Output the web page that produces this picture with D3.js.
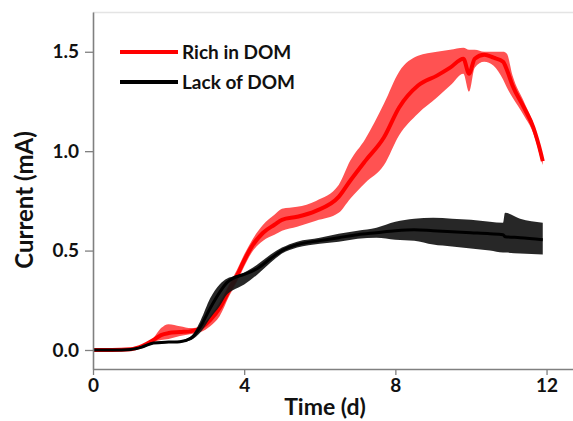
<!DOCTYPE html>
<html><head><meta charset="utf-8">
<script src="https://cdn.jsdelivr.net/npm/d3@7"></script>
<style>
html,body{margin:0;padding:0;background:#fff;}
svg{display:block;font-family:Lato,"Open Sans",sans-serif;font-weight:bold;}
</style></head>
<body>
<svg id="c" width="573" height="421"></svg>
<script>
// ---- data ----
const xTicks = [0, 4, 8, 12];
const yTicks = [0, 0.5, 1.0, 1.5];
const seriesNames = ["Rich in DOM", "Lack of DOM"];

const tRed    = [0, 0.5, 1.0, 1.3, 1.6, 1.8, 2.0, 2.3, 2.6, 2.85, 3.1, 3.35, 3.6, 3.8, 4.0, 4.2, 4.5, 4.8, 5.0, 5.4, 5.9, 6.5, 6.8, 7.2, 7.7, 8.1, 8.6, 9.1, 9.45, 9.8, 9.95, 10.1, 10.35, 10.6, 10.85, 10.95, 11.1, 11.4, 11.65, 11.75, 11.85, 11.9];
const redMean = [0, 0, 0.004, 0.02, 0.05, 0.075, 0.085, 0.09, 0.095, 0.11, 0.15, 0.21, 0.30, 0.37, 0.45, 0.52, 0.59, 0.63, 0.655, 0.67, 0.70, 0.77, 0.85, 0.95, 1.07, 1.22, 1.33, 1.38, 1.42, 1.465, 1.39, 1.465, 1.485, 1.47, 1.45, 1.41, 1.33, 1.22, 1.12, 1.06, 0.99, 0.95];
const redLow  = [0, 0, 0.002, 0.015, 0.04, 0.05, 0.055, 0.07, 0.08, 0.09, 0.12, 0.17, 0.27, 0.34, 0.42, 0.49, 0.55, 0.58, 0.60, 0.62, 0.65, 0.69, 0.76, 0.84, 0.93, 1.08, 1.19, 1.27, 1.33, 1.39, 1.30, 1.42, 1.45, 1.43, 1.36, 1.32, 1.27, 1.18, 1.09, 1.03, 0.96, 0.93];
const redHigh = [0, 0, 0.006, 0.025, 0.06, 0.11, 0.13, 0.12, 0.11, 0.12, 0.17, 0.24, 0.33, 0.40, 0.48, 0.55, 0.63, 0.68, 0.71, 0.72, 0.75, 0.83, 0.95, 1.06, 1.24, 1.40, 1.48, 1.50, 1.51, 1.52, 1.51, 1.51, 1.50, 1.50, 1.50, 1.49, 1.38, 1.25, 1.14, 1.08, 1.01, 0.97];

const tBlack    = [0, 0.5, 1.0, 1.3, 1.6, 2.0, 2.3, 2.6, 2.85, 3.1, 3.35, 3.55, 3.7, 4.0, 4.35, 4.7, 5.0, 5.4, 6.0, 6.5, 7.0, 7.5, 8.0, 8.5, 9.0, 9.5, 10.0, 10.5, 10.85, 10.9, 11.3, 11.9];
const blackMean = [0, 0, 0.003, 0.015, 0.035, 0.04, 0.042, 0.06, 0.12, 0.21, 0.29, 0.34, 0.36, 0.38, 0.41, 0.46, 0.50, 0.53, 0.55, 0.565, 0.58, 0.59, 0.60, 0.605, 0.60, 0.595, 0.59, 0.585, 0.58, 0.57, 0.565, 0.555];
const blackLow  = [0, 0, 0, 0.01, 0.03, 0.035, 0.037, 0.05, 0.09, 0.16, 0.22, 0.28, 0.30, 0.33, 0.38, 0.44, 0.485, 0.515, 0.535, 0.545, 0.56, 0.565, 0.555, 0.55, 0.53, 0.52, 0.51, 0.50, 0.49, 0.49, 0.485, 0.48];
const blackHigh = [0, 0, 0.006, 0.02, 0.04, 0.045, 0.047, 0.07, 0.15, 0.26, 0.33, 0.36, 0.37, 0.39, 0.43, 0.48, 0.515, 0.545, 0.565, 0.585, 0.60, 0.615, 0.645, 0.66, 0.665, 0.66, 0.655, 0.645, 0.64, 0.69, 0.66, 0.64];

// ---- chart ----
const svg = d3.select("#c");
const x = d3.scaleLinear().domain([0, 12.7]).range([93, 573]);
const y = d3.scaleLinear().domain([-0.0956, 1.70]).range([369, 12]);

const red = tRed.map((t,i)=>({t, m:redMean[i], lo:redLow[i], hi:redHigh[i]}));
const blk = tBlack.map((t,i)=>({t, m:blackMean[i], lo:blackLow[i], hi:blackHigh[i]}));

const area = d3.area().x(d=>x(d.t)).y0(d=>y(d.lo)).y1(d=>y(d.hi)).curve(d3.curveMonotoneX);
const line = d3.line().x(d=>x(d.t)).y(d=>y(d.m)).curve(d3.curveMonotoneX);

// top faint frame
svg.append("line").attr("x1",93).attr("x2",573).attr("y1",12.5).attr("y2",12.5).attr("stroke","#e4e4e4").attr("stroke-width",1.5);

svg.append("path").datum(red).attr("d",area).attr("fill","#ff5252");
svg.append("path").datum(red).attr("d",line).attr("fill","none").attr("stroke","#ff0000").attr("stroke-width",4);
svg.append("path").datum(blk).attr("d",area).attr("fill","#151515").attr("fill-opacity",0.92);
svg.append("path").datum(blk).attr("d",line).attr("fill","none").attr("stroke","#000").attr("stroke-width",3);

// axes
const xAxis = d3.axisBottom(x).tickValues(xTicks).tickFormat(d3.format("d")).tickSize(6).tickSizeOuter(0).tickPadding(4);
const gx = svg.append("g").attr("transform","translate(0,369)").call(xAxis);
const yAxis = d3.axisLeft(y).tickValues(yTicks).tickFormat(d3.format(".1f")).tickSize(8).tickSizeOuter(0).tickPadding(6);
const gy = svg.append("g").attr("transform","translate(93,0)").call(yAxis);
[gx,gy].forEach(g=>{
  g.selectAll(".domain").attr("stroke","#808080").attr("stroke-width",1.6);
  g.selectAll(".tick line").attr("stroke","#808080").attr("stroke-width",1.3);
  g.selectAll("text").attr("fill","#111").style("font-size","19px").style("font-weight","bold").style("font-family","Lato, sans-serif");
});

svg.append("text").attr("x",325).attr("y",415).attr("text-anchor","middle")
  .style("font-size","23px").attr("fill","#111").text("Time (d)");
svg.append("text").attr("transform","translate(33,200) rotate(-90)").attr("text-anchor","middle")
  .style("font-size","24px").attr("fill","#111").text("Current (mA)");

// legend
const legColors = ["#ff0000","#000"];
seriesNames.forEach((n,i)=>{
  const ly = 52 + i*30;
  svg.append("line").attr("x1",120).attr("x2",178).attr("y1",ly).attr("y2",ly).attr("stroke",legColors[i]).attr("stroke-width",4);
  svg.append("text").attr("x",182).attr("y",ly+7).style("font-size","19px").attr("fill","#111").text(n);
});
</script>
</body></html>
